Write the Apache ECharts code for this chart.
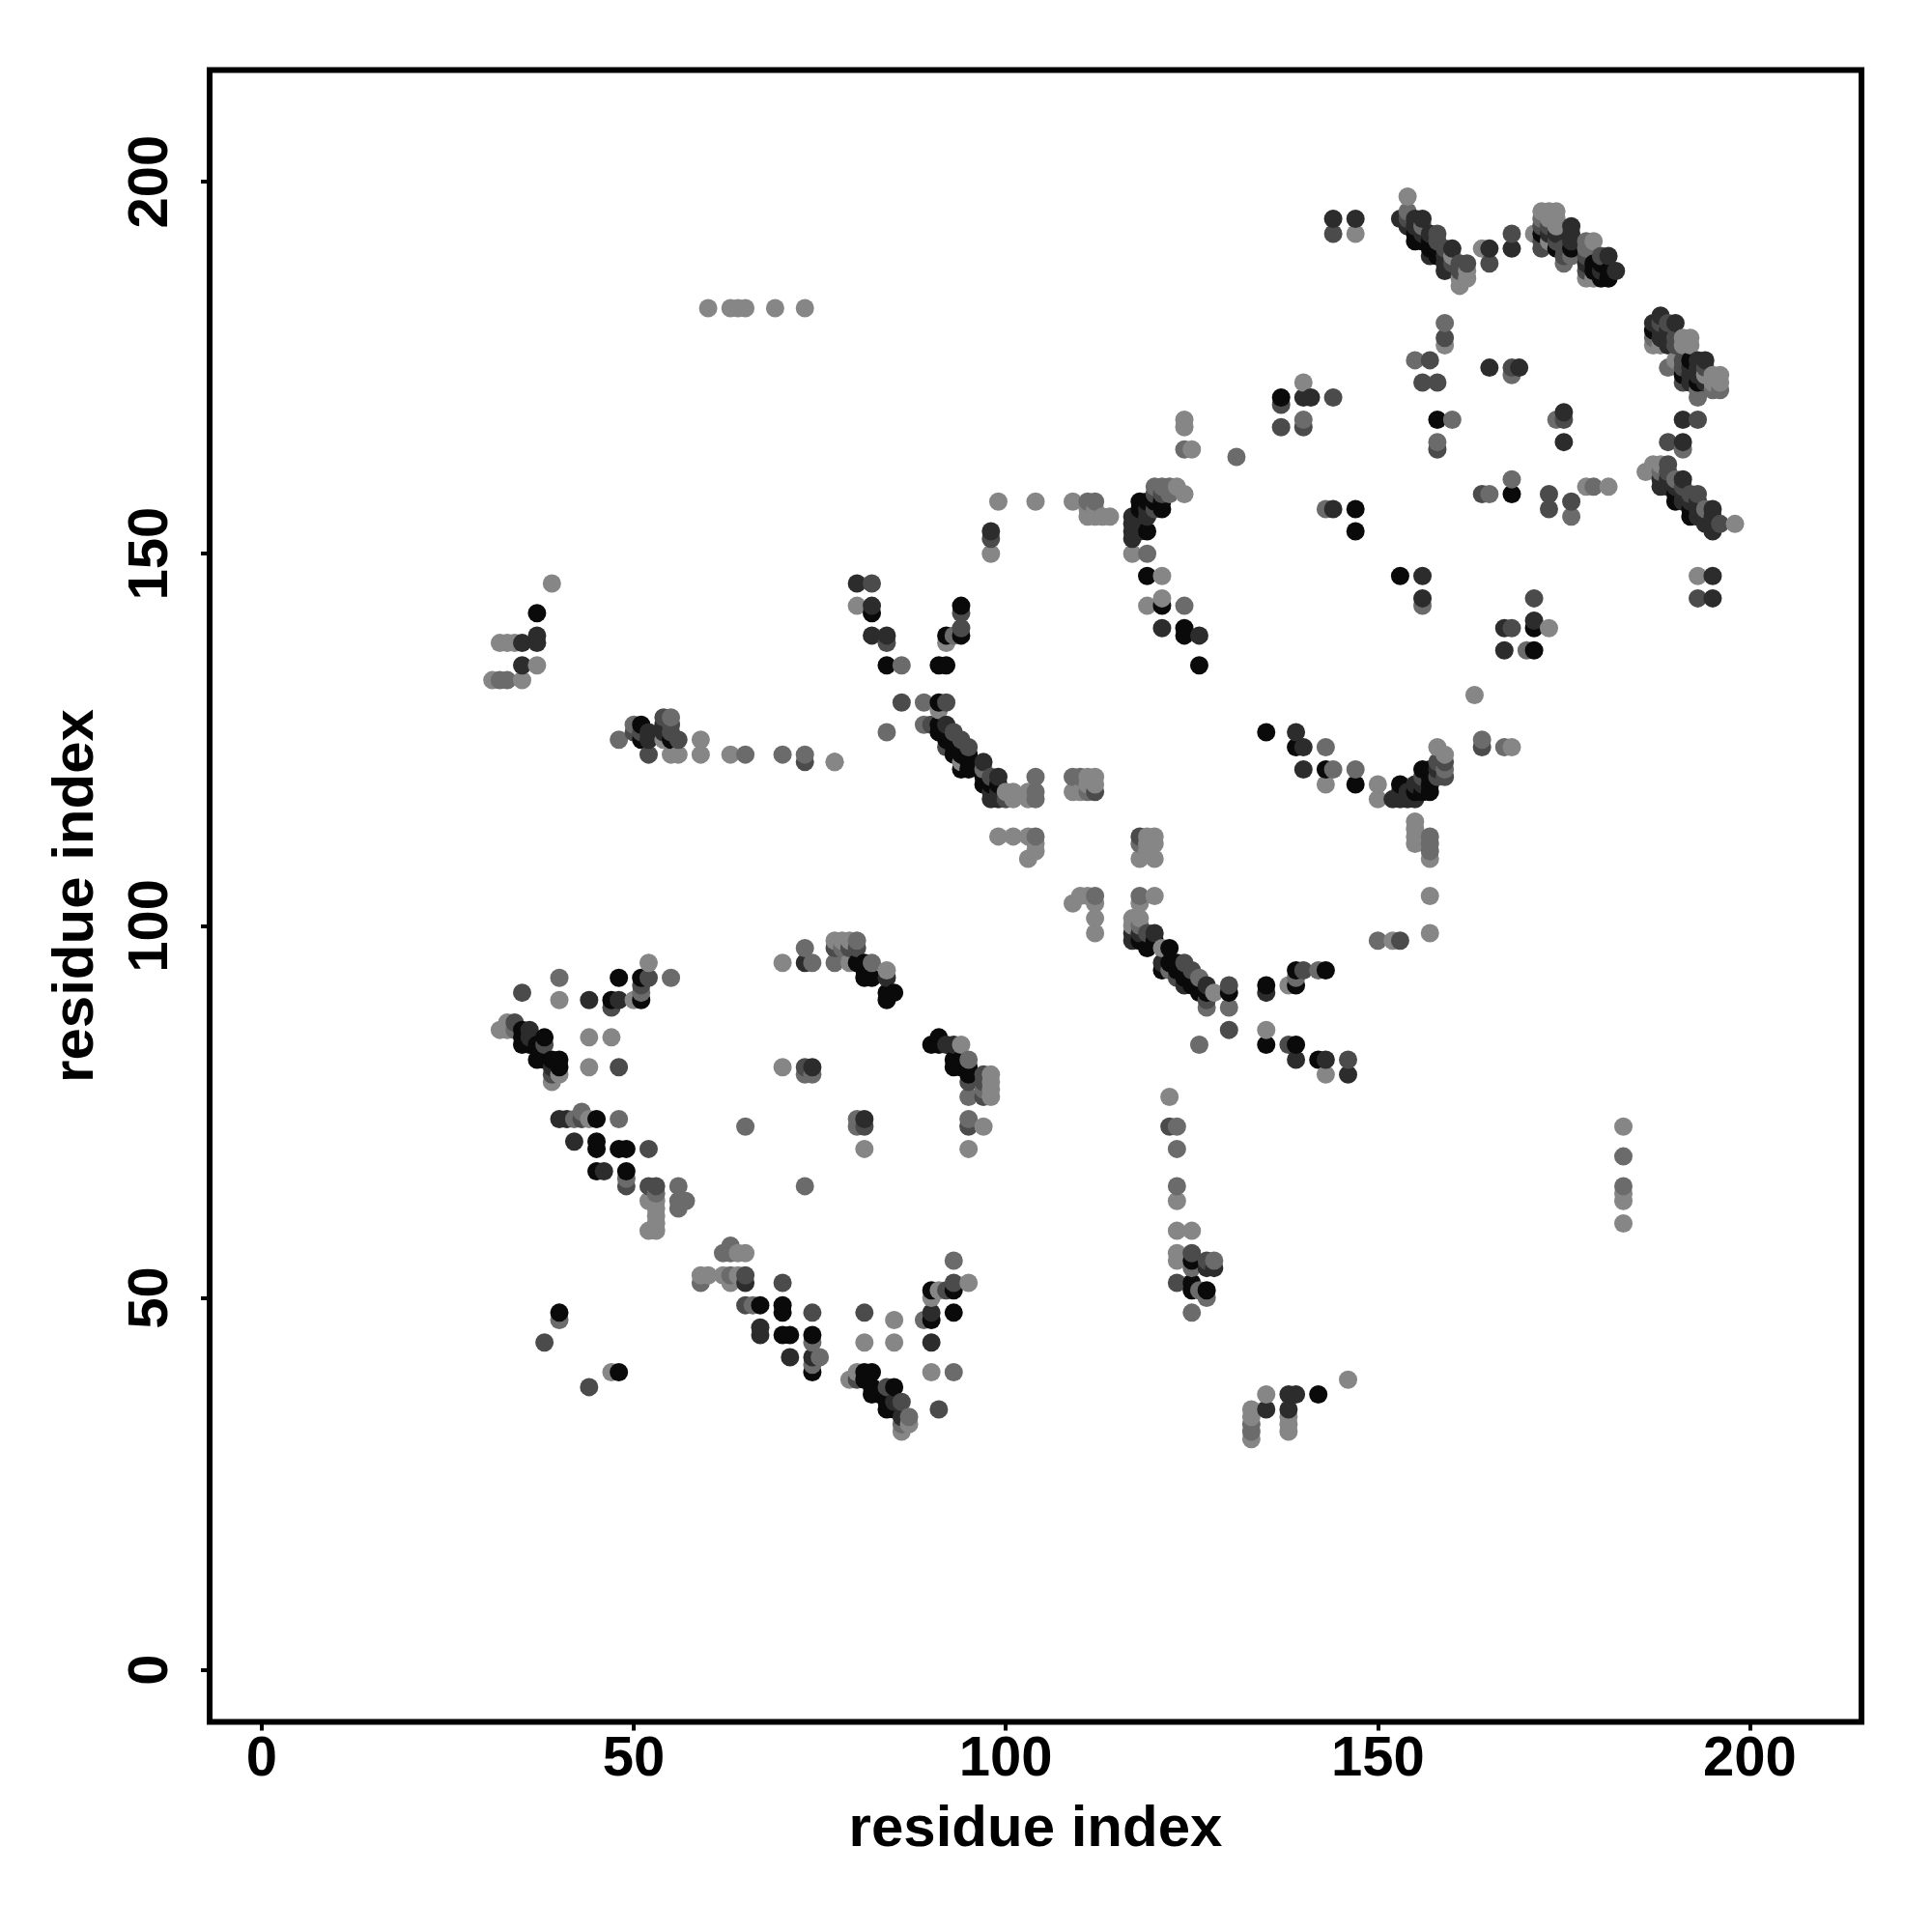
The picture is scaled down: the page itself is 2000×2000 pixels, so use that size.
<!DOCTYPE html>
<html>
<head>
<meta charset="utf-8">
<script src="https://cdn.jsdelivr.net/npm/echarts@6/dist/echarts.min.js"></script>
<style>html,body{margin:0;padding:0;background:#fff}#c{width:2000px;height:2000px}</style>
</head>
<body>
<div id="c"></div>
<script>
// Each contact: [residue i, residue j, strength 1 (weak) .. 5 (strong)]
const tickValues = [0, 50, 100, 150, 200];
const axisTitle = 'residue index';

const lowerLeftA = [
[40,93,2],[48,93,5],[51,93,5],[52,93,3],[55,93,2],[52,95,1],[35,91,3],[51,92,3],[51,91,2],[40,90,1],[44,90,4],[47,90,5],[48,90,4],[47,89,3],[50,90,1],[51,90,5],
[32,86,1],[33,86,1],[33,87,1],[34,87,3],[34,86,2],[35,86,5],[35,85,5],[36,86,4],[35,84,5],[36,85,4],[36,84,5],[37,84,5],[38,85,5],[38,84,3],[37,82,5],[38,82,5],[39,82,5],[40,82,5],[40,81,5],[39,81,4],[39,80,3],[39,79,1],[40,80,1],
[44,85,1],[47,85,1],[44,81,1],[48,81,3],
[40,74,4],[41,74,4],[42,74,2],[43,75,2],[43,74,3],[44,74,1],[45,74,5],[48,74,2],[42,71,4],[45,71,5],[45,70,5],[48,70,5],[49,70,5],[52,70,3],[45,67,5],[46,67,4],[49,67,5],[49,66,2],[49,65,3],
[52,65,3],[53,65,3],[56,65,2],[53,64,2],[52,63,1],[53,63,1],[56,63,2],[56,62,2],[57,63,2],[53,62,1],[53,61,1],[53,60,1],[52,59,1],[53,59,1]
];
const lowerLeftB = [
[63,57,2],[62,56,2],[63,56,2],[64,56,1],[65,56,1],[59,53,1],[60,53,1],[59,52,2],[62,53,1],[63,53,2],[64,53,1],[63,52,1],[65,53,3],[65,52,4],
[65,49,3],[66,49,2],[67,49,5],[70,52,3],[70,49,5],[70,48,5],[74,48,3],[81,48,3],[85,47,1],[67,46,4],[67,45,4],[70,45,5],[71,45,5],[74,45,5],[74,44,2],[71,42,4],[74,42,4],[75,42,2],[74,41,2],[74,40,5],[81,44,1],[85,44,1],
[40,48,5],[40,47,2],[38,44,3],[47,40,1],[48,40,5],[44,38,3],
[79,39,1],[80,40,1],[80,39,3],[81,40,5],[82,40,5],[81,39,5],[82,38,5],[82,37,5],[84,38,3],[85,38,5],[83,37,5],[84,36,5],[84,35,5],[85,36,4],[86,36,3],[85,35,5],[86,34,4],[87,34,2],[87,33,1],[86,33,2],[86,32,1],
[93,55,2],[93,52,3],[93,51,5],[95,52,1],[90,51,5],[91,51,1],[92,51,3],[90,50,1],[90,48,4],[90,47,5],[89,47,2],[90,44,4],[93,48,5],[90,40,1],[93,40,2],[91,35,3]
];
const lowerMiddleTop = [
[70,95,1],[73,97,2],[73,95,4],[74,95,2],[77,95,2],[79,95,1],[77,98,1],[78,98,1],[79,98,1],[80,98,2],[77,97,3],[78,97,2],[79,97,3],[80,97,3],[80,95,5],[81,95,5],[82,95,2],[81,94,5],[81,93,5],[82,93,5],[84,94,1],[84,93,4],[85,91,5],[84,91,5],[84,90,5],
[91,85,5],[90,84,5],[91,84,5],[92,84,4],[93,84,4],[94,84,1],[93,82,5],[94,82,5],[93,81,5],[95,82,2],[94,81,5],[95,81,5],[95,80,5],[95,79,3],[95,77,2],[97,80,3],[98,80,1],[98,79,1],[98,78,1],[97,79,3],[97,78,2],[97,77,3],[98,77,1],
[95,74,2],[95,73,3],[97,73,1],[95,70,1],[70,81,1],[73,81,3],[74,81,4],[73,80,2],[74,80,2],[80,74,2],[80,73,2],[81,74,4],[81,73,3],[81,70,1],[73,65,2],[65,73,2]
];
const centreLower = [
[118,112,3],[119,112,1],[120,112,1],[118,111,2],[119,111,1],[120,111,1],[119,110,1],[118,109,1],[120,109,1],
[112,104,2],[110,104,1],[111,104,1],[109,103,1],[112,103,1],[112,101,1],[112,99,1],[118,104,2],[120,104,1],[118,103,1],
[117,101,1],[118,101,1],[117,100,1],[118,100,2],[117,99,4],[117,98,4],[118,98,5],[118,99,4],[119,97,5],[119,99,3],[120,99,4],[120,98,5],[121,97,1],[122,97,5],
[121,95,4],[121,94,5],[122,95,5],[123,95,5],[124,95,3],[122,94,2],[123,94,5],[124,94,5],[125,94,3],[123,93,3],[124,93,5],[125,93,5],[126,93,2],[124,92,4],[125,92,5],[126,92,5],[126,91,5],[127,92,4],[127,91,5],[127,90,3],[127,89,2],[128,91,1],
[130,92,3],[130,91,5],[130,89,2],[130,86,3],[126,84,2],[122,77,1],
[135,92,5],[135,91,4],[135,86,1],[135,84,5],[138,92,1],[139,94,5],[139,93,2],[139,92,5],[140,94,3],[142,94,2],[143,94,5],[138,84,3],[139,84,5],[139,82,4],[142,82,5],[143,82,4],[146,82,3],[143,80,1],[146,80,4],
[150,98,2],[152,98,1],[153,98,3]
];
const centreBottom = [
[122,73,3],[123,73,2],[123,70,2],[123,65,2],[123,63,1],[123,59,1],[125,59,1],[123,56,1],[123,55,1],[125,56,3],[125,55,5],[125,54,2],[127,55,3],[128,55,2],[127,54,4],[128,54,4],[123,52,3],[125,52,5],[125,51,5],[126,51,2],[127,51,5],[127,50,2],[125,48,2],
[146,39,1],[142,37,5],[138,37,4],[139,37,4],[135,37,1],[135,35,4],[138,35,4],[133,35,1],[138,34,1],[138,33,1],[138,32,1],[133,33,2],[133,32,2],[133,34,1],[133,31,1],
[183,73,1],[183,69,2],[183,65,2],[183,64,1],[183,63,1],[183,60,1]
];
const centreFan = [
[80,146,4],[82,146,3],[80,143,1],[82,143,4],[82,142,5],[82,139,4],[84,139,4],[84,138,3],[84,135,5],[86,135,2],[86,130,3],[84,126,2],[77,122,1],
[94,143,5],[94,142,3],[94,140,3],[94,139,5],[92,139,5],[93,139,2],[92,138,1],[91,135,5],[92,135,5],[89,130,2],[91,130,5],[92,130,3],[91,129,1],
[89,127,2],[90,127,3],[91,127,5],[92,127,4],[91,126,5],[92,126,5],[93,126,3],[92,125,5],[93,125,5],[94,125,3],[95,124,3],[92,124,3],[93,124,5],[94,124,5],[93,123,5],[94,123,5],[95,123,5],[94,122,1],[95,122,5],[94,121,5],[95,121,5],
[97,122,4],[97,121,2],[97,120,5],[97,119,5],[98,120,3],[99,120,4],[98,119,5],[98,118,4],[98,117,4],[99,117,4],[99,119,5],[99,118,4],[100,118,1],[101,118,1],[101,117,1],[100,117,3],
[104,120,2],[103,118,1],[104,118,2],[103,117,1],[104,117,2],[109,120,2],[110,120,2],[109,118,1],[111,120,1],[112,120,1],[111,119,1],[112,119,1],[110,118,1],[111,118,2],[112,118,3],
[99,112,1],[101,112,1],[103,112,1],[104,112,2],[104,111,1],[104,110,1],[103,109,1]
];
const centreUpper = [
[120,159,2],[121,159,2],[122,159,2],[123,159,1],[124,158,1],[120,158,3],[121,158,3],[122,158,2],[118,157,5],[119,157,5],[120,157,5],[121,157,5],[121,156,5],[117,155,4],[118,155,4],[119,155,4],[118,156,5],[119,156,4],[120,156,3],[117,154,4],[118,154,4],[117,153,4],[118,153,4],[119,153,5],[117,152,4],[117,150,1],[119,150,2],[119,147,5],[121,147,1],[119,143,1],[121,144,1],[121,143,5],[124,143,2],[121,140,4],[124,140,5],[124,139,5],[126,139,4],[126,135,5],
[109,157,1],[111,157,2],[112,157,2],[111,156,1],[112,156,1],[111,155,1],[112,155,1],[113,155,1],[114,155,1],
[143,156,2],[144,156,4],[147,156,5],[147,153,5],[153,147,5],[156,147,4],[156,144,4],[156,143,2],
[99,157,1],[104,157,1],[98,153,4],[98,152,3],[98,150,1],
[131,163,2],[124,168,1],[124,167,1],[124,164,2],[125,164,1],
[137,171,5],[137,170,3],[137,167,3],[140,173,1],[140,171,4],[141,171,4],[140,168,2],[140,167,3],[144,171,3]
];
const rightLower = [
[135,126,5],[139,126,4],[139,124,5],[140,124,4],[143,124,2],[140,121,4],[143,121,5],[144,121,2],[143,119,1],[147,121,2],[147,119,5],[150,119,1],[150,117,1],
[152,117,4],[153,117,4],[154,117,4],[155,117,4],[153,119,5],[153,118,4],[154,118,4],[155,118,5],[155,119,4],[156,118,5],[156,119,4],[156,120,3],[156,121,5],[157,118,5],[157,119,5],[157,120,5],[157,121,5],
[158,124,1],[158,122,3],[158,121,4],[158,120,3],[159,123,1],[159,122,3],[159,121,2],[159,120,3],
[164,125,2],[164,124,3],[167,124,2],[168,124,1],[163,131,1],
[155,114,1],[155,113,1],[155,112,1],[155,111,1],[157,112,2],[157,111,2],[157,110,2],[157,109,1],[157,104,1],[157,99,1],
[167,140,4],[168,140,3],[167,137,4],[170,137,2],[171,137,5],[171,144,3],[171,141,4],[171,140,5],[173,140,1]
];
const topRight = [
[144,195,4],[147,195,4],[144,193,3],[147,193,1],[154,198,1],[154,196,2],[153,195,4],[154,195,3],[154,194,4],[155,195,4],[155,194,4],[156,195,4],[156,194,2],[155,193,5],[155,192,5],[156,193,4],[156,192,5],[157,193,4],[158,193,3],[157,192,5],[157,191,5],[158,192,3],[157,190,4],[158,191,5],[159,191,3],[160,191,4],[159,190,4],[158,190,5],[159,189,4],[159,188,4],[160,190,1],[160,189,3],[161,189,3],[162,189,3],[161,188,3],[162,188,1],[162,187,1],[161,187,1],[161,186,1],
[164,191,1],[165,191,4],[165,189,3],[168,193,3],[168,191,4],
[171,193,1],[172,196,1],[172,195,2],[172,194,3],[172,193,5],[172,192,3],[172,191,3],[173,196,1],[173,195,1],[173,194,3],[173,193,4],[173,192,1],[174,196,1],[174,195,1],[174,194,1],[174,193,4],[174,192,3],[174,191,5],[175,190,3],[175,189,2],[176,194,4],[176,193,4],[176,192,4],[176,191,5],[175,191,3],[176,190,2],
[178,192,2],[179,192,1],[178,191,2],[178,190,3],[178,189,4],[178,188,3],[178,187,1],[179,187,1],[179,189,5],[179,188,5],[180,190,3],[181,190,4],[180,189,5],[180,187,5],[181,187,5],[180,188,4],[181,188,5],[182,188,4],
[159,181,2],[159,179,3],[159,178,1],[155,176,2],[157,176,3],[156,173,3],[158,173,3],[165,175,4],[168,175,3],[169,175,4],[168,174,2],[158,168,5],[160,168,2],[175,169,4],[174,168,2],[175,168,3],[175,165,4],[158,165,2],[158,164,3]
];
const farRight = [
[188,182,4],[187,181,4],[187,180,5],[188,180,4],[188,181,3],[189,181,3],[190,181,4],[187,179,2],[187,178,1],[188,179,4],[188,178,1],[189,180,4],[189,179,4],[189,178,4],[190,179,3],[190,178,3],[191,179,1],[192,179,1],[191,178,1],[192,178,1],
[189,175,2],[190,176,1],[191,176,3],[192,176,5],[191,175,3],[191,174,5],[191,173,3],[192,175,4],[192,174,4],[193,176,4],[194,176,4],[193,175,4],[193,174,4],[193,173,5],[192,173,4],[193,172,2],[193,171,2],[194,175,3],[194,174,1],[194,173,4],[195,174,1],[196,174,1],[195,173,1],[196,173,1],[196,172,2],[195,172,2],
[191,168,4],[193,168,3],[189,165,3],[191,165,4],[191,164,2],
[186,161,1],[187,162,1],[188,162,1],[189,162,3],[188,161,2],[188,160,4],[188,159,4],[189,161,3],[189,160,4],[189,159,4],[190,160,2],[191,160,4],[190,159,4],[190,158,5],[190,157,5],[191,159,3],[191,158,4],[191,157,4],[192,158,3],[193,158,3],[192,157,4],[192,156,5],[192,155,5],[193,157,4],[193,156,4],[193,155,4],[194,156,2],[195,156,4],[194,155,4],[194,154,4],[195,155,4],[195,154,4],[195,153,4],[196,154,3],[198,154,1],
[193,147,1],[195,147,4],[193,144,3],[195,144,4],
[168,160,2],[168,158,5],[164,158,3],[165,158,2],[173,158,3],[173,156,3],[176,157,3],[176,155,2],[178,159,1],[179,159,2],[181,159,1]
];
const upperLeft = [
[39,146,1],[37,142,5],[37,139,4],[37,138,4],[35,138,4],[32,138,1],[33,138,1],[34,138,1],[35,135,4],[37,135,1],[31,133,1],[32,133,2],[33,133,2],[35,133,1],
[48,125,2],[50,127,2],[51,127,5],[50,126,3],[51,126,3],[51,125,5],[52,126,4],[52,125,4],[52,123,3],[54,128,3],[55,128,2],[54,127,4],[55,127,3],[54,126,4],[55,126,3],[54,125,1],[55,125,5],[56,125,3],[55,123,1],[56,123,1],[59,125,1],[59,123,1],[63,123,1],[65,123,2],[70,123,2],[73,123,2],[73,122,3],[77,122,1],
[60,183,1],[63,183,1],[64,183,1],[65,183,1],[69,183,1],[73,183,1]
];

const strengthShade = { 1: '#868686', 2: '#6b6b6b', 3: '#4b4b4b', 4: '#2c2c2c', 5: '#0a0a0a' };

const contacts = [].concat(lowerLeftA, lowerLeftB, lowerMiddleTop, centreLower, centreBottom,
  centreFan, centreUpper, rightLower, topRight, farRight, upperLeft)
  .sort((a, b) => a[0] - b[0] || a[1] - b[1]);

const axisCommon = {
  type: 'value', min: -7, max: 215,
  name: axisTitle, nameLocation: 'middle',
  nameTextStyle: { fontFamily: 'Liberation Sans', fontWeight: 'bold', fontSize: 60, color: '#000' },
  axisLine: { show: false, onZero: false }, splitLine: { show: false }, splitArea: { show: false },
  axisTick: { show: true, length: 9, inside: false, customValues: tickValues, lineStyle: { color: '#000', width: 4 } }
};
const labelCommon = { show: true, customValues: tickValues, fontFamily: 'Liberation Sans', fontWeight: 'bold', fontSize: 58, color: '#000', showMinLabel: true, showMaxLabel: true };

const chart = echarts.init(document.getElementById('c'), null, { renderer: 'canvas' });
chart.setOption({
  animation: false,
  backgroundColor: '#fff',
  grid: { show: true, left: 217, top: 72.5, width: 1710, height: 1710, borderColor: '#000', borderWidth: 6, backgroundColor: 'transparent', containLabel: false },
  xAxis: Object.assign({}, axisCommon, { nameGap: 82, axisLabel: Object.assign({}, labelCommon, { margin: 10 }) }),
  yAxis: Object.assign({}, axisCommon, { nameGap: 108, axisLabel: Object.assign({}, labelCommon, { margin: 31, rotate: 90 }) }),
  series: [{
    type: 'scatter', symbol: 'circle', symbolSize: 19, silent: true, large: false, progressive: 0,
    data: contacts.map(c => ({ value: [c[0], c[1]], itemStyle: { color: strengthShade[c[2]], opacity: 1 } }))
  }]
});
</script>
</body>
</html>
